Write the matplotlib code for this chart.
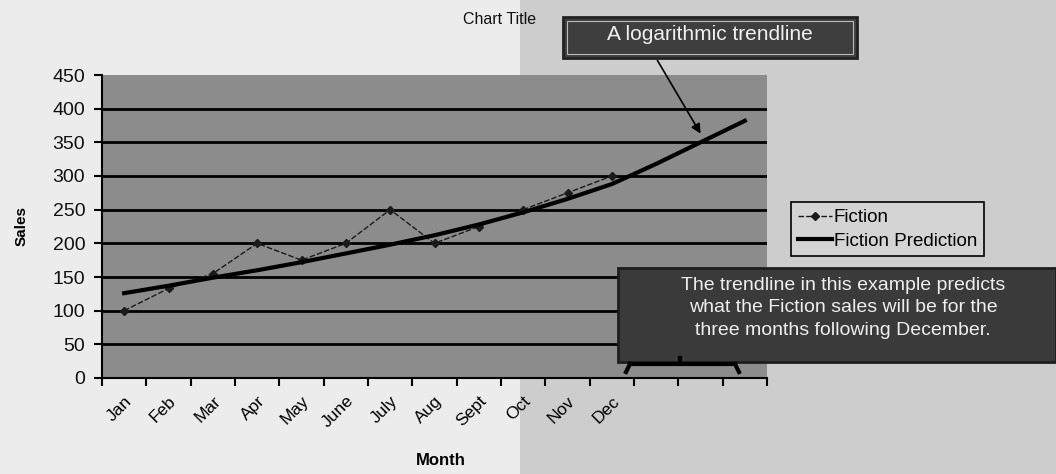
import matplotlib
matplotlib.use("Agg")
import matplotlib.pyplot as plt
from matplotlib.patches import Rectangle
from matplotlib.lines import Line2D
import numpy as np

plt.rcParams['font.family'] = ['Liberation Sans', 'DejaVu Sans']

months = ["Jan", "Feb", "Mar", "Apr", "May", "June", "July", "Aug", "Sept", "Oct", "Nov", "Dec"]
extra_periods = ["", "", ""]
fiction = [100, 133, 155, 200, 175, 200, 250, 200, 225, 250, 275, 300]
fiction_prediction = [126, 137, 149, 160, 172, 185, 198, 212, 228, 246, 266, 288, 318, 350, 382]
y_ticks = [0, 50, 100, 150, 200, 250, 300, 350, 400, 450]

W, H = 1056, 474
fig = plt.figure(figsize=(W / 100, H / 100), dpi=100)
fig.patch.set_facecolor("#ececec")

def fx(px):
    return px / W

def fy(py):
    return 1 - py / H

# textured right-hand background
fig.add_artist(Rectangle((fx(520), 0), 1 - fx(520), 1, transform=fig.transFigure,
                         facecolor="#cdcdcd", edgecolor="none", zorder=0))

ax = fig.add_axes([fx(102), fy(378), fx(767) - fx(102), fy(75) - fy(378)])
ax.set_facecolor("#8c8c8c")

labels = months + extra_periods
n = len(labels)
x_all = np.arange(n)
x_f = np.arange(len(fiction))

ax.set_xlim(-0.5, n - 0.5)
ax.set_ylim(0, 450)
ax.set_yticks(y_ticks)
ax.set_yticklabels([str(v) for v in y_ticks], fontsize=14, color="#111111")
for v in y_ticks[1:-1]:
    ax.axhline(v, color="black", lw=2.0, zorder=1)

ax.set_xticks(x_all)
ax.set_xticklabels(labels, rotation=45, ha="right", rotation_mode="anchor", fontsize=12.5)
ax.tick_params(axis="x", which="major", length=0, pad=11)
ax.set_xticks(np.arange(-0.5, n, 1.0), minor=True)
ax.tick_params(axis="x", which="minor", length=6, width=1.5, direction="out")
ax.tick_params(axis="y", length=6, width=1.5, direction="out", pad=6)

for s in ["top", "right"]:
    ax.spines[s].set_visible(False)
ax.spines["left"].set_linewidth(1.5)
ax.spines["bottom"].set_linewidth(1.5)

ax.plot(x_f, fiction, color="#1a1a1a", lw=1.0, ls=(0, (4, 1.5)), marker="D",
        markersize=4.5, zorder=3, label="Fiction")
ax.plot(x_all, fiction_prediction, color="black", lw=3.0, zorder=4, label="Fiction Prediction")

ax.set_ylabel("Sales", fontsize=11, fontweight="bold")
ax.yaxis.set_label_coords(-0.11, 0.5)
ax.set_xlabel("Month", fontsize=12, fontweight="bold")
ax.xaxis.set_label_coords(0.51, -0.248)

leg = ax.legend(loc="upper left", bbox_to_anchor=(fx(782), fy(193)),
                bbox_transform=fig.transFigure, fontsize=13.5, frameon=True,
                fancybox=False, edgecolor="black", facecolor="#d4d4d4",
                framealpha=1, handlelength=1.8, handletextpad=0.1,
                borderpad=0.35, labelspacing=0.35)
leg.get_frame().set_linewidth(1.2)

fig.text(fx(500), fy(20), "Chart Title", fontsize=11.5, ha="center", va="center", color="#111111")

# Callout box 1
fig.add_artist(Rectangle((fx(563), fy(58)), fx(857) - fx(563), fy(17) - fy(58),
                         transform=fig.transFigure, facecolor="#3e3e3e",
                         edgecolor="#222222", lw=2, zorder=5))
fig.add_artist(Rectangle((fx(567), fy(54)), fx(853) - fx(567), fy(21) - fy(54),
                         transform=fig.transFigure, facecolor="none",
                         edgecolor="#bbbbbb", lw=0.8, zorder=6))
fig.text(fx(710), fy(34), "A logarithmic trendline", fontsize=15, ha="center",
         va="center", color="#f0f0f0", zorder=7)
ax.annotate("", xy=(fx(702), fy(136)), xycoords="figure fraction",
            xytext=(fx(656), fy(58)), textcoords="figure fraction",
            arrowprops=dict(arrowstyle="-|>", color="black", lw=1.2,
                            mutation_scale=14), zorder=8)

# Callout box 2
fig.add_artist(Rectangle((fx(618), fy(362)), 1 - fx(618), fy(268) - fy(362),
                         transform=fig.transFigure, facecolor="#3a3a3a",
                         edgecolor="#1e1e1e", lw=2, zorder=5))
fig.text(fx(843), fy(308),
         "The trendline in this example predicts\nwhat the Fiction sales will be for the\nthree months following December.",
         fontsize=14, ha="center", va="center", color="#eeeeee",
         linespacing=1.4, zorder=7)

# bracket under callout 2
for (x0, y0, x1, y1) in [(630, 364, 735, 364), (630, 364, 626, 372), (735, 364, 739, 372),
                         (680, 364, 680, 358)]:
    fig.add_artist(Line2D([fx(x0), fx(x1)], [fy(y0), fy(y1)], transform=fig.transFigure,
                          color="black", lw=3, zorder=8))

fig.savefig("out.png", dpi=100, facecolor=fig.get_facecolor())
